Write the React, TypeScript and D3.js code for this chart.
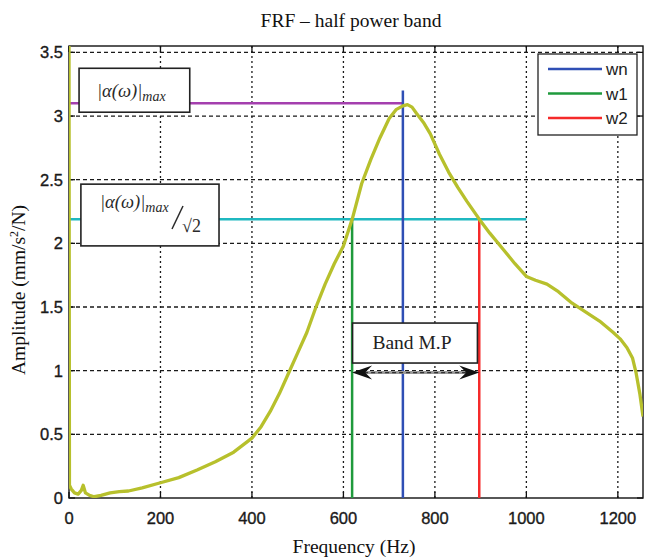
import React from 'react';
import * as d3 from 'd3';

// ---- data ----
const freq = [0, 1, 5, 12, 20, 27, 31, 36, 45, 55, 70, 90, 110, 130, 160, 200, 240, 280, 320, 360, 400, 420, 440, 460, 480, 500, 520, 540, 560, 580, 600, 620, 640, 660, 680, 700, 715, 730, 740, 750, 760, 775, 790, 810, 830, 850, 870, 897, 920, 950, 975, 1000, 1020, 1045, 1070, 1100, 1130, 1160, 1190, 1205, 1220, 1232, 1240, 1248, 1255];
const amp = [3.6, 0.1, 0.07, 0.04, 0.03, 0.06, 0.1, 0.04, 0.02, 0.01, 0.02, 0.04, 0.05, 0.055, 0.08, 0.12, 0.16, 0.22, 0.285, 0.36, 0.47, 0.56, 0.68, 0.82, 0.98, 1.14, 1.3, 1.5, 1.68, 1.84, 1.98, 2.2, 2.47, 2.66, 2.83, 2.98, 3.05, 3.08, 3.09, 3.07, 3.02, 2.95, 2.86, 2.7, 2.56, 2.44, 2.33, 2.19, 2.08, 1.95, 1.84, 1.74, 1.71, 1.68, 1.62, 1.53, 1.46, 1.39, 1.3, 1.25, 1.18, 1.1, 0.98, 0.82, 0.64];
const xTicks = [0, 200, 400, 600, 800, 1000, 1200];
const yTicks = [0, 0.5, 1, 1.5, 2, 2.5, 3, 3.5];
const xTickLabels = ['0', '200', '400', '600', '800', '1000', '1200'];
const yTickLabels = ['0', '0.5', '1', '1.5', '2', '2.5', '3', '3.5'];
const freqWn = 730;
const freqW1 = 619;
const freqW2 = 897;
const ampMax = 3.1;
const ampHalf = 2.19;
const wnTop = 3.2;
const halfLineEnd = 1000;
const legendLabels = ['wn', 'w1', 'w2'];
const legendColors = ['#2f4fb5', '#1f9a3c', '#f52a2a'];

const CURVE = '#b7c02c';
const PURPLE = '#a43fae';
const CYAN = '#1fb8c0';

export default function App() {
  const W = 645, H = 557;
  const L = 69, R = 643, T = 46, B = 498;
  const x = d3.scaleLinear().domain([0, 1255]).range([L, R]);
  const y = d3.scaleLinear().domain([0, 3.55]).range([B, T]);
  const pts: [number, number][] = freq.map((f, i) => [f, amp[i]]);
  const line = d3.line<[number, number]>().x(d => x(d[0])).y(d => y(d[1]));

  const serif = '"Liberation Serif", "Times New Roman", serif';
  const sans = '"Liberation Sans", Arial, sans-serif';

  // annotation boxes (data coords)
  const box1 = { x0: 22, x1: 264, y0: 3.375, y1: 3.03 };
  const box2 = { x0: 26, x1: 328, y0: 2.465, y1: 1.98 };
  const box3 = { x0: 620, x1: 893, y0: 1.374, y1: 1.06 };
  const arrowY = 0.985;

  const ax1 = x(freqW1), ax2 = x(freqW2), ay = y(arrowY);

  const tickStyle = { fontFamily: sans, fontSize: 16.5, fill: '#1a1a1a', stroke: '#1a1a1a', strokeWidth: 0.35 };

  return (
    <svg width={W} height={H} style={{ position: 'absolute', left: 0, top: 0, background: '#fff' }}>
      <defs>
        <clipPath id="plot"><rect x={L} y={T} width={R - L} height={B - T} /></clipPath>
      </defs>
      <rect x={0} y={0} width={W} height={H} fill="#fff" />
      {/* grid */}
      {xTicks.slice(1).map(t => (
        <line key={'gx' + t} x1={x(t)} x2={x(t)} y1={T} y2={B} stroke="#1a1a1a" strokeWidth={1.3} strokeDasharray="2,3" />
      ))}
      {yTicks.slice(1).map(t => (
        <line key={'gy' + t} x1={L} x2={R} y1={y(t)} y2={y(t)} stroke="#1a1a1a" strokeWidth={1.3} strokeDasharray="4,3" />
      ))}
      {/* ticks */}
      {xTicks.map(t => (
        <g key={'tx' + t}>
          <line x1={x(t)} x2={x(t)} y1={B} y2={B - 6} stroke="#111" strokeWidth={1.3} />
          <line x1={x(t)} x2={x(t)} y1={T} y2={T + 6} stroke="#111" strokeWidth={1.3} />
        </g>
      ))}
      {yTicks.map(t => (
        <g key={'ty' + t}>
          <line x1={L} x2={L + 6} y1={y(t)} y2={y(t)} stroke="#111" strokeWidth={1.3} />
          <line x1={R} x2={R - 6} y1={y(t)} y2={y(t)} stroke="#111" strokeWidth={1.3} />
        </g>
      ))}
      {/* axes box */}
      <rect x={L} y={T} width={R - L} height={B - T} fill="none" stroke="#111" strokeWidth={1.4} />

      {/* reference lines */}
      <line x1={L} x2={x(freqWn)} y1={y(ampMax)} y2={y(ampMax)} stroke={PURPLE} strokeWidth={2.5} />
      <line x1={L} x2={x(halfLineEnd)} y1={y(ampHalf)} y2={y(ampHalf)} stroke={CYAN} strokeWidth={2.5} />
      <line x1={x(freqWn)} x2={x(freqWn)} y1={y(0)} y2={y(wnTop)} stroke={legendColors[0]} strokeWidth={2.5} />
      <line x1={x(freqW1)} x2={x(freqW1)} y1={y(0)} y2={y(ampHalf)} stroke={legendColors[1]} strokeWidth={2.5} />
      <line x1={x(freqW2)} x2={x(freqW2)} y1={y(0)} y2={y(ampHalf)} stroke={legendColors[2]} strokeWidth={2.5} />

      {/* curve */}
      <path d={line(pts) || ''} fill="none" stroke={CURVE} strokeWidth={3.3} strokeLinejoin="round" clipPath="url(#plot)" />

      {/* annotation boxes */}
      <rect x={x(box1.x0)} y={y(box1.y0)} width={x(box1.x1) - x(box1.x0)} height={y(box1.y1) - y(box1.y0)} fill="#fff" stroke="#222" strokeWidth={1.6} />
      <text x={97} y={97} fontFamily={serif} fontStyle="italic" fontSize={18.5} fill="#2a2a2a">
        |α(ω)|<tspan fontSize={14} dy={4}>max</tspan>
      </text>

      <rect x={x(box2.x0)} y={y(box2.y0)} width={x(box2.x1) - x(box2.x0)} height={y(box2.y1) - y(box2.y0)} fill="#fff" stroke="#222" strokeWidth={1.6} />
      <text x={100} y={208} fontFamily={serif} fontStyle="italic" fontSize={18.5} fill="#2a2a2a">
        |α(ω)|<tspan fontSize={14} dy={4}>max</tspan>
      </text>
      <line x1={172} y1={229} x2={183} y2={206} stroke="#2a2a2a" strokeWidth={1.5} />
      <text x={182} y={232} fontFamily={serif} fontSize={18} fill="#2a2a2a">√2</text>

      <rect x={x(box3.x0)} y={y(box3.y0)} width={x(box3.x1) - x(box3.x0)} height={y(box3.y1) - y(box3.y0)} fill="#fff" stroke="#222" strokeWidth={1.6} />
      <text x={(x(box3.x0) + x(box3.x1)) / 2 - 3} y={349} textAnchor="middle" fontFamily={serif} fontSize={19.5} fill="#222">Band M.P</text>

      {/* double arrow */}
      <line x1={ax1 + 12} x2={ax2 - 12} y1={ay} y2={ay} stroke="#9a9a9a" strokeWidth={3} />
      <line x1={ax1 + 12} x2={ax2 - 12} y1={ay} y2={ay} stroke="#333" strokeWidth={1.2} strokeDasharray="4,3" />
      <path d={`M${ax1},${ay} L${ax1 + 20},${ay - 7} L${ax1 + 13},${ay} L${ax1 + 20},${ay + 7} Z`} fill="#111" />
      <path d={`M${ax2},${ay} L${ax2 - 20},${ay - 7} L${ax2 - 13},${ay} L${ax2 - 20},${ay + 7} Z`} fill="#111" />

      {/* legend */}
      <rect x={538} y={54} width={99} height={81} fill="#fff" stroke="#222" strokeWidth={1.3} />
      {legendLabels.map((lab, i) => (
        <g key={lab}>
          <line x1={548} x2={602} y1={69 + i * 24.5} y2={69 + i * 24.5} stroke={legendColors[i]} strokeWidth={2.5} />
          <text x={606} y={69 + i * 24.5 + 6} fontFamily={sans} fontSize={17} fill="#222">{lab}</text>
        </g>
      ))}

      {/* tick labels */}
      {xTicks.map((t, i) => (
        <text key={'xl' + t} x={x(t)} y={524} textAnchor="middle" {...tickStyle}>{xTickLabels[i]}</text>
      ))}
      {yTicks.map((t, i) => (
        <text key={'yl' + t} x={63} y={y(t) + 6} textAnchor="end" {...tickStyle}>{yTickLabels[i]}</text>
      ))}

      {/* titles */}
      <text x={351} y={27} textAnchor="middle" fontFamily={serif} fontSize={19.5} fill="#111">FRF – half power band</text>
      <text x={354} y={553} textAnchor="middle" fontFamily={serif} fontSize={19.5} fill="#111">Frequency (Hz)</text>
      <text transform={`translate(25,${290}) rotate(-90)`} textAnchor="middle" fontFamily={serif} fontSize={19.5} fill="#111">
        Amplitude (mm/s<tspan fontSize={12} dy={-7}>2</tspan><tspan dy={7}>/N)</tspan>
      </text>
    </svg>
  );
}
